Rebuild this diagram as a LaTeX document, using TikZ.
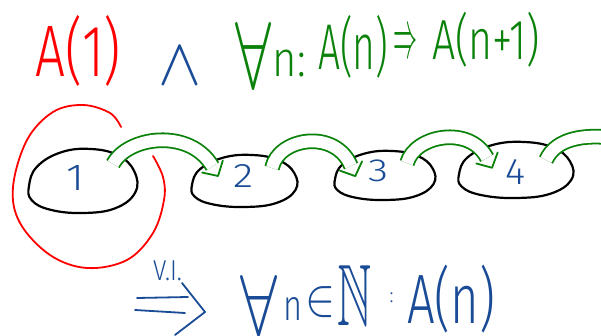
\documentclass[tikz,border=0pt]{standalone}
\usepackage{fontspec}
\usepackage{amssymb}
\usepackage{graphicx}
\usetikzlibrary{calc}
\IfFontExistsTF{Fira Sans Light}{\newfontfamily\handfont{Fira Sans Light}}{\newfontfamily\handfont{Fira Sans}}
\definecolor{hred}{RGB}{255,0,0}
\definecolor{hgreen}{RGB}{10,130,10}
\definecolor{hblue}{RGB}{25,75,150}
\newcommand\fitbox[3]{\resizebox*{#1pt}{#2pt}{#3}}
\begin{document}
\begin{tikzpicture}[x=1pt,y=-1pt,
  txt/.style={inner sep=0pt, outer sep=0pt},
  blobline/.style={draw=black, line width=2.2pt},
  shaft/.style={draw=hgreen, line width=1.8pt, double=white, double distance=12pt},
  head/.style={draw=hgreen, line width=1.8pt, line join=round, line cap=round},
  loopline/.style={draw=hred, line width=1.8pt, line cap=round},
  bluestroke/.style={draw=hblue, line width=1.8pt, line cap=round, line join=round},
  pics/blob/.style={code={\draw[blobline] plot[smooth cycle, tension=0.7] coordinates {(-1,0.15) (-0.85,-0.45) (-0.4,-0.9) (0.15,-1) (0.65,-0.8) (0.95,-0.3) (0.97,0.35) (0.6,0.85) (0,1) (-0.6,0.9) (-0.95,0.6)};}}
]
\fill[white] (0,0) rectangle (601,336);
\useasboundingbox (0,0) rectangle (601,336);

% top formula
\node[txt, text=hred] (a1) at (78.5,50.5) {\fitbox{85}{71}{\handfont A(1)}};
\node[txt, text=hblue] (and) at (180.5,66.5) {\fitbox{43}{37}{$\wedge$}};
\node[txt, text=hgreen] (fa1) at (253,55) {\fitbox{36}{66}{$\forall$}};
\node[txt, text=hgreen] (n1) at (289.5,63.5) {\fitbox{33}{27}{\handfont n:}};
\node[txt, text=hgreen] (an) at (353,46.5) {\fitbox{70}{63}{\handfont A(n)}};
\node[txt, text=hgreen] (imp) at (405,45.5) {\fitbox{24}{25}{$\Rightarrow$}};
\node[txt, text=hgreen] (an1) at (486,39.5) {\fitbox{108}{55}{\handfont A(n+1)}};

% blobs
\pic[xscale=54, yscale=32] at (83,181) {blob};
\pic[xscale=52.5, yscale=26] at (244.5,181) {blob};
\pic[xscale=50, yscale=24.5] at (385,175.5) {blob};
\pic[xscale=57, yscale=28] at (516,170) {blob};

% arrows
\coordinate (s1) at (113,164); \coordinate (c11) at (128,136); \coordinate (c12) at (190,128); \coordinate (e1) at (212.5,166.5);
\coordinate (s2) at (272,168); \coordinate (c21) at (278,138); \coordinate (c22) at (335,128); \coordinate (e2) at (351,166);
\coordinate (s3) at (407,163); \coordinate (c31) at (415,135); \coordinate (c32) at (470,125); \coordinate (e3) at (487,158);
\coordinate (s4) at (546,160); \coordinate (c41) at (556,138); \coordinate (c42) at (585,134); \coordinate (e4) at (615,138);
\draw[shaft] (s1) .. controls (c11) and (c12) .. (e1);
\draw[shaft] (s2) .. controls (c21) and (c22) .. (e2);
\draw[shaft] (s3) .. controls (c31) and (c32) .. (e3);
\draw[shaft] (s4) .. controls (c41) and (c42) .. (e4);
\draw[head] ($(e1)!12pt!90:(c12)$) -- ($(e1)!-11pt!(c12)$) -- ($(e1)!12pt!-90:(c12)$);
\draw[head] ($(e2)!12pt!90:(c22)$) -- ($(e2)!-11pt!(c22)$) -- ($(e2)!12pt!-90:(c22)$);
\draw[head] ($(e3)!12pt!90:(c32)$) -- ($(e3)!-11pt!(c32)$) -- ($(e3)!12pt!-90:(c32)$);

% numbers
\node[txt, text=hblue] (k1) at (76,177.5) {\fitbox{18}{25}{\handfont 1}};
\node[txt, text=hblue] (k2) at (243,176.5) {\fitbox{20}{23}{\handfont 2}};
\node[txt, text=hblue] (k3) at (378,171) {\fitbox{20}{22}{\handfont 3}};
\node[txt, text=hblue] (k4) at (515,172.5) {\fitbox{20}{25}{\handfont 4}};

% red loop
\draw[loopline] plot[smooth, tension=0.6] coordinates {(121,127) (110,113) (83,105) (53,112) (27,140) (13,187) (20,223) (50,255) (87,268) (127,260) (153,233) (164,200) (163,177) (153,156)};

% bottom
\node[txt, text=hblue] (vi) at (167.5,271) {\fitbox{29}{20}{\handfont V.I.}};
\coordinate (l1a) at (137,298); \coordinate (l1b) at (188,297);
\coordinate (l2a) at (135,310); \coordinate (l2b) at (185,313);
\coordinate (ch1) at (182,283); \coordinate (cht) at (205,312); \coordinate (ch2) at (175,335);
\draw[bluestroke] (l1a) -- (l1b);
\draw[bluestroke] (l2a) -- (l2b);
\draw[bluestroke] (ch1) -- (cht) -- (ch2);
\node[txt, text=hblue] (fa2) at (258.5,305) {\fitbox{37}{60}{$\forall$}};
\node[txt, text=hblue] (n2) at (292.5,308.5) {\fitbox{19}{23}{\handfont n}};
\node[txt, text=hblue] (el) at (320,302.5) {\fitbox{30}{31}{$\in$}};
\node[txt, text=hblue] (nat) at (355,295) {\fitbox{34}{60}{$\mathbb{N}$}};
\node[txt, text=hblue] (col) at (391.5,298) {\fitbox{4}{10}{\handfont :}};
\node[txt, text=hblue] (an2) at (451,299) {\fitbox{88}{68}{\handfont A(n)}};
\end{tikzpicture}
\end{document}
